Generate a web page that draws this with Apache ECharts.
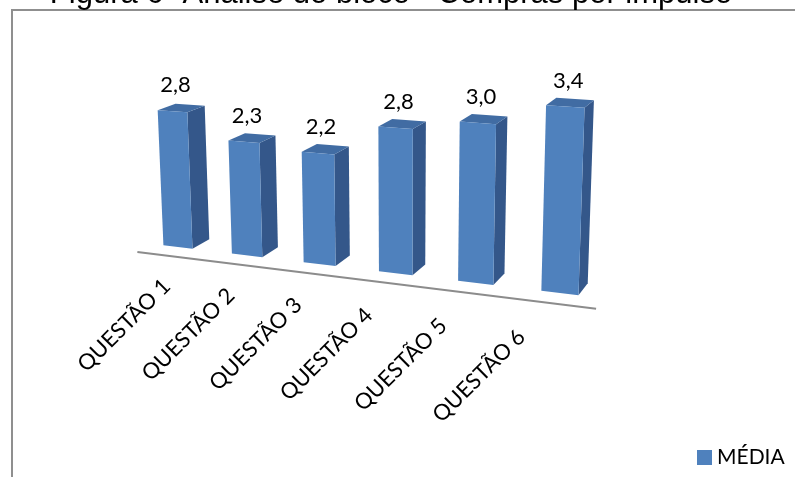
<!DOCTYPE html>
<html>
<head>
<meta charset="utf-8">
<script src="https://cdn.jsdelivr.net/npm/echarts@6/dist/echarts.min.js"></script>
<style>
  html, body { margin: 0; padding: 0; background: #ffffff; }
  #chart { width: 795px; height: 477px; }
</style>
</head>
<body>
<div id="chart"></div>
<script>
// ---- chart content ----
const titleText = 'Figura 6- Análise do bloco - Compras por impulso';
const categories = ['QUESTÃO 1', 'QUESTÃO 2', 'QUESTÃO 3', 'QUESTÃO 4', 'QUESTÃO 5', 'QUESTÃO 6'];
const seriesName = 'MÉDIA';
const mediaValues = [2.8, 2.3, 2.2, 2.8, 3.0, 3.4];
const valueMax = 4;

// ---- 3D look: the flat grid is projected onto a tilted plane ----
// screen corners of the plotting plane for (u,v) = (0,0), (1,0), (1,1), (0,1)
const planeQuad = [[144.5, 243], [603.6, 298.3], [611.8, 74.6], [135.6, 49.2]];
const depthVanish = [943, -178];   // where the bar depth edges converge
const barDepth = 0.022;            // depth of a column
const floorFront = 0.019;          // how far the floor edge sits in front of the columns
const barHalfWidth = 0.215;        // half of the column width, in category bands

const colors = {
  front: '#4F81BD',
  side: '#34578A',
  top: '#416CA3',
  floor: '#8C8C8C',
  text: '#000000',
  frame: '#8F8F8F'
};
const labelFont = 'Lato, "Open Sans", sans-serif';

function makeHomography(q) {
  const [x0, y0] = q[0], [x1, y1] = q[1], [x2, y2] = q[2], [x3, y3] = q[3];
  const dx1 = x1 - x2, dx2 = x3 - x2, dx3 = x0 - x1 + x2 - x3;
  const dy1 = y1 - y2, dy2 = y3 - y2, dy3 = y0 - y1 + y2 - y3;
  const den = dx1 * dy2 - dx2 * dy1;
  const g = (dx3 * dy2 - dx2 * dy3) / den;
  const h = (dx1 * dy3 - dx3 * dy1) / den;
  const a = x1 - x0 + g * x1, b = x3 - x0 + h * x3, c = x0;
  const d = y1 - y0 + g * y1, e = y3 - y0 + h * y3, f = y0;
  return function (u, v) {
    const w = g * u + h * v + 1;
    return { x: (a * u + b * v + c) / w, y: (d * u + e * v + f) / w, w: w };
  };
}
const plane = makeHomography(planeQuad);

function project(cs, px, py) {
  const u = (px - cs.x) / cs.width;
  const v = (cs.y + cs.height - py) / cs.height;
  return plane(u, v);
}
// move a projected point along the depth direction (positive = away from the viewer)
function recede(p, depth) {
  const k = depth / p.w;
  return [p.x + k * (depthVanish[0] - p.x), p.y + k * (depthVanish[1] - p.y)];
}
const pt = p => [p.x, p.y];

function renderColumn(params, api) {
  const cs = params.coordSys;
  const idx = api.value(0);
  const val = api.value(1);
  const base = api.coord([idx, 0]);
  const top = api.coord([idx, val]);
  const half = api.size([1, 0])[0] * barHalfWidth;

  const fl = project(cs, base[0] - half, base[1]);
  const fr = project(cs, base[0] + half, base[1]);
  const tl = project(cs, top[0] - half, top[1]);
  const tr = project(cs, top[0] + half, top[1]);
  const bfr = recede(fr, barDepth);
  const btr = recede(tr, barDepth);
  const btl = recede(tl, barDepth);
  const foot = project(cs, base[0], base[1]);

  const topMid = [(tl.x + tr.x) / 2, (tl.y + tr.y) / 2];
  const valueText = val.toFixed(1).replace('.', ',');

  // category label hangs below the floor edge, rotated 45 degrees
  const lx = foot.x - 19 - 0.0707 * (foot.x - 178);
  const ly = foot.y + 28 + 0.012 * (foot.x - 178);

  return {
    type: 'group',
    children: [
      { type: 'polygon', shape: { points: [pt(fr), pt(tr), btr, bfr] },
        style: { fill: colors.side } },
      { type: 'polygon', shape: { points: [pt(tl), pt(tr), btr, btl] },
        style: { fill: colors.top } },
      { type: 'polygon', shape: { points: [pt(fl), pt(fr), pt(tr), pt(tl)] },
        style: { fill: colors.front } },
      { type: 'text', x: topMid[0] + 3, y: topMid[1] - 26,
        style: { text: valueText, fill: colors.text, fontSize: 22, fontFamily: labelFont,
                 align: 'center', verticalAlign: 'middle' } },
      { type: 'text', x: lx, y: ly, rotation: Math.PI / 4,
        style: { text: categories[idx], fill: colors.text, fontSize: 22, fontFamily: labelFont,
                 align: 'right', verticalAlign: 'top' } }
    ]
  };
}

function renderFloor(params, api) {
  const cs = params.coordSys;
  const y0 = api.coord([0, 0])[1];
  const a = recede(project(cs, cs.x + cs.width * 0.02, y0), -floorFront);
  const b = recede(project(cs, cs.x + cs.width, y0), -floorFront);
  return {
    type: 'line',
    shape: { x1: a[0], y1: a[1], x2: b[0], y2: b[1] },
    style: { stroke: colors.floor, lineWidth: 2 }
  };
}

const chart = echarts.init(document.getElementById('chart'), null, { renderer: 'canvas' });
chart.setOption({
  animation: false,
  backgroundColor: '#ffffff',
  grid: { left: 100, right: 100, top: 60, bottom: 160 },
  xAxis: { type: 'category', data: categories, show: false },
  yAxis: { type: 'value', min: 0, max: valueMax, show: false },
  legend: {
    data: [seriesName],
    left: 697, top: 447, padding: 0,
    icon: 'rect', itemWidth: 15, itemHeight: 15, itemGap: 10,
    textStyle: { fontFamily: labelFont, fontSize: 21, color: colors.text }
  },
  graphic: [
    { type: 'rect', shape: { x: 12, y: 10, width: 820, height: 500 },
      style: { fill: 'none', stroke: colors.frame, lineWidth: 2 }, z: 0 },
    { type: 'text', x: 391, y: -5.5,
      style: { text: titleText, fill: colors.text, fontSize: 31,
               fontFamily: '"Liberation Sans", Arial, sans-serif',
               align: 'center', verticalAlign: 'middle' } }
  ],
  series: [
    { name: 'floor', type: 'custom', renderItem: renderFloor, data: [[0, 0]], silent: true, z: 1 },
    { name: seriesName, type: 'custom', renderItem: renderColumn,
      itemStyle: { color: colors.front },
      data: mediaValues.map((v, i) => [i, v]), z: 2 }
  ]
});
</script>
</body>
</html>
